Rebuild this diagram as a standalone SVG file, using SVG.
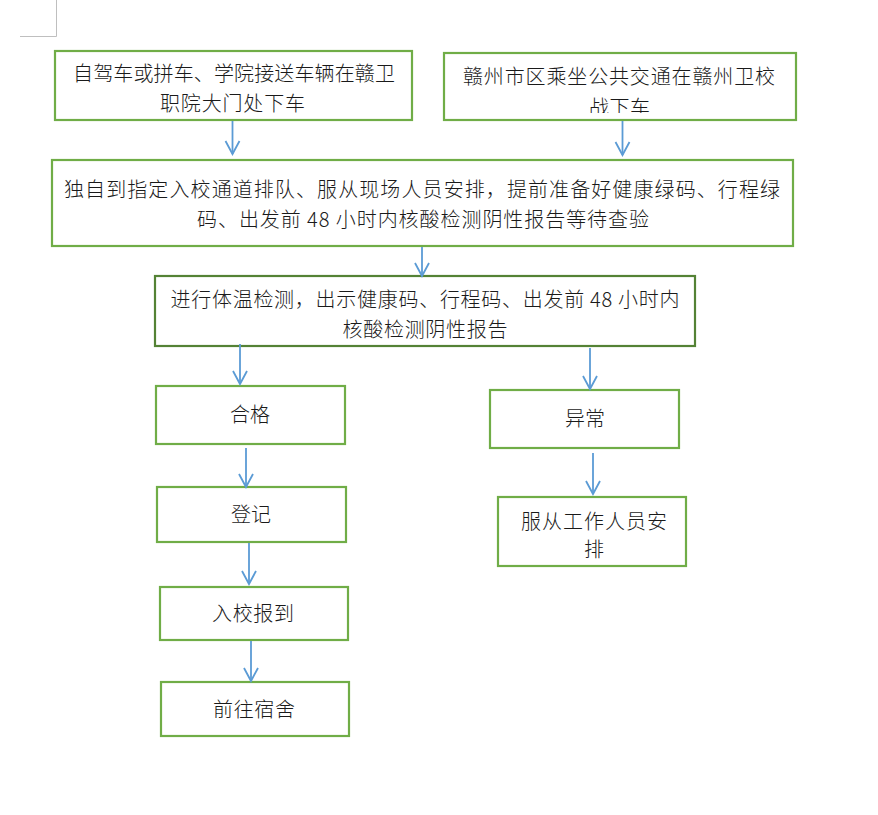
<svg xmlns="http://www.w3.org/2000/svg" width="878" height="815" viewBox="0 0 878 815">
<style>
.box{fill:#ffffff;stroke:#70AD47;stroke-width:2.2}
.box.dark{stroke:#548235}
.t{font-family:"Noto Sans CJK SC","Noto Sans CJK JP",sans-serif;font-size:20px;font-weight:300;fill:#1a1a1a;text-anchor:middle}
.c{stroke:#5B9BD5;stroke-width:1.8;fill:none;marker-end:url(#arr)}
.mark{stroke:#BFBFBF;stroke-width:1;fill:none}
</style>
<defs>
<marker id="arr" markerUnits="userSpaceOnUse" viewBox="-16 -10 20 20" refX="0" refY="0" markerWidth="20" markerHeight="20" orient="auto" overflow="visible">
<path d="M-13,-7 L0,0 L-13,7" fill="none" stroke="#5B9BD5" stroke-width="1.8"/>
</marker>
<clipPath id="clip2"><rect x="444" y="53" width="352" height="60"/></clipPath>
</defs>
<rect width="878" height="815" fill="#ffffff"/>
<path class="mark" d="M56.5,0 V36.5 H20"/>

<g id="n1">
<rect class="box" x="55" y="51" width="357" height="69"/>
<text class="t" x="234" y="81" textLength="322" lengthAdjust="spacing">自驾车或拼车、学院接送车辆在赣卫</text>
<text class="t" x="232.5" y="111" textLength="145" lengthAdjust="spacing">职院大门处下车</text>
</g>

<g id="n2">
<rect class="box" x="444" y="53" width="352" height="67"/>
<text class="t" x="619" y="84" textLength="312" lengthAdjust="spacing">赣州市区乘坐公共交通在赣州卫校</text>
<text class="t" x="619.5" y="115" textLength="61" lengthAdjust="spacing" clip-path="url(#clip2)">战下车</text>
</g>

<g id="n3">
<rect class="box" x="52" y="160" width="741" height="86"/>
<text class="t" x="422" y="197" textLength="716" lengthAdjust="spacing">独自到指定入校通道排队、服从现场人员安排，提前准备好健康绿码、行程绿</text>
<text class="t" x="423" y="227" textLength="452" lengthAdjust="spacing">码、出发前 48 小时内核酸检测阴性报告等待查验</text>
</g>

<g id="n4">
<rect class="box dark" x="155" y="276" width="540" height="70"/>
<text class="t" x="425" y="307" textLength="509" lengthAdjust="spacing">进行体温检测，出示健康码、行程码、出发前 48 小时内</text>
<text class="t" x="425" y="337" textLength="165" lengthAdjust="spacing">核酸检测阴性报告</text>
</g>

<g id="n5">
<rect class="box" x="156" y="386" width="189" height="58"/>
<text class="t" x="250" y="422" textLength="40" lengthAdjust="spacing">合格</text>
</g>

<g id="n6">
<rect class="box" x="490" y="390" width="189" height="58"/>
<text class="t" x="585" y="426" textLength="40" lengthAdjust="spacing">异常</text>
</g>

<g id="n7">
<rect class="box" x="157" y="487" width="189" height="55"/>
<text class="t" x="251" y="522" textLength="40" lengthAdjust="spacing">登记</text>
</g>

<g id="n8">
<rect class="box" x="498" y="497" width="188" height="69"/>
<text class="t" x="594" y="529" textLength="146" lengthAdjust="spacing">服从工作人员安</text>
<text class="t" x="594" y="557">排</text>
</g>

<g id="n9">
<rect class="box" x="160" y="587" width="188" height="53"/>
<text class="t" x="253" y="621" textLength="82" lengthAdjust="spacing">入校报到</text>
</g>

<g id="n10">
<rect class="box" x="161" y="682" width="188" height="54"/>
<text class="t" x="254" y="717" textLength="82" lengthAdjust="spacing">前往宿舍</text>
</g>

<g id="connectors">
<line class="c" x1="232.5" y1="121" x2="232.5" y2="154"/>
<line class="c" x1="622.5" y1="121" x2="622.5" y2="155"/>
<line class="c" x1="422" y1="247" x2="422" y2="276"/>
<line class="c" x1="240" y1="344" x2="240" y2="384"/>
<line class="c" x1="590" y1="348" x2="590" y2="389"/>
<line class="c" x1="246" y1="448" x2="246" y2="487"/>
<line class="c" x1="593" y1="453" x2="593" y2="494"/>
<line class="c" x1="249" y1="543" x2="249" y2="584"/>
<line class="c" x1="251" y1="641" x2="251" y2="681"/>
</g>
</svg>
